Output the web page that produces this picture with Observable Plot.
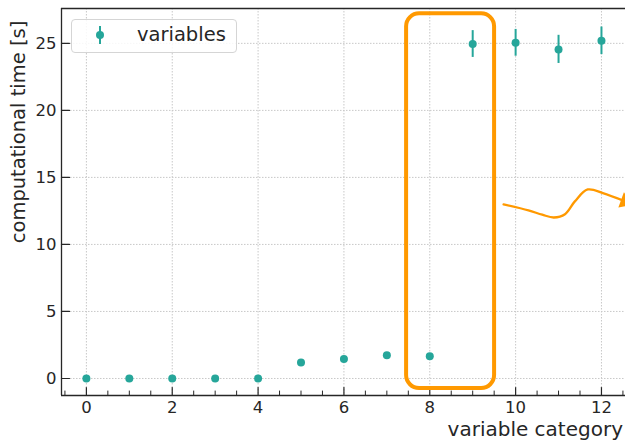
<!DOCTYPE html>
<html><head><meta charset="utf-8">
<script src="https://cdn.jsdelivr.net/npm/d3@7"></script>
<script src="https://cdn.jsdelivr.net/npm/@observablehq/plot@0.6"></script>
<style>
body{margin:0;background:#fff;font-family:"DejaVu Sans",sans-serif;}
#wrap{position:relative;width:625px;height:440px;overflow:hidden;}
#ylab{position:absolute;left:19px;top:132px;transform:translate(-50%,-50%) rotate(-90deg);white-space:nowrap;font-size:19.5px;line-height:1;color:#262626;}
#xlab{position:absolute;right:2px;top:419px;white-space:nowrap;font-size:20px;line-height:1;color:#262626;}
#legend{position:absolute;left:71px;top:19px;width:166px;height:34px;border:1px solid #d5d5d5;border-radius:4px;background:rgba(255,255,255,0.85);box-sizing:border-box;}
#legend svg{position:absolute;left:20px;top:4px;}
#legend span{position:absolute;left:65px;top:3px;font-size:19.5px;color:#262626;}
</style></head><body>
<div id="wrap"></div>
<script>
// data
const categories = [0,1,2,3,4,5,6,7,8,9,10,11,12];
const times      = [0,0,0,0,0,1.2,1.45,1.74,1.66,24.95,25.04,24.55,25.19];
const errors     = [0,0,0,0,0,0,0,0,0,1.0,1.0,1.05,1.03];
const xTickLabels = [0,2,4,6,8,10,12];
const yTickLabels = [0,5,10,15,20,25];
const seriesName = "variables";
const xLabel = "variable category";
const yLabel = "computational time [s]";
// annotation (data coordinates)
const boxX = [7.46, 9.51];
const boxY = [-0.75, 27.2];
const squiggleX = [9.72, 10.30, 10.62, 10.89, 11.15, 11.38, 11.68, 12.05, 12.56];
const squiggleY = [12.99, 12.54, 12.22, 12.01, 12.25, 13.21, 14.10, 13.81, 13.21];

const teal = "#26a69a";
const orange = "#ff9900";
const xDomain = [-0.58, 12.56];
const yDomain = [-1.27, 27.6];

const data = categories.map((c,i)=>({x:c, y:times[i], e:errors[i]}));
const errData = data.filter(d=>d.e>0);
const squiggle = squiggleX.map((x,i)=>({x, y:squiggleY[i]}));
const arrowTip = [squiggle[squiggle.length-1]];
const minorX = d3.range(-0.5, 12.6, 0.5).filter(v=>Math.abs(v%2)>1e-9);
const tickShape = {draw(ctx,l){ctx.moveTo(0,0); ctx.lineTo(0,-l);}};

const chart = Plot.plot({
  width: 625, height: 440,
  marginLeft: 61, marginRight: 0, marginTop: 8, marginBottom: 45,
  style: {fontFamily: "DejaVu Sans, sans-serif", fontSize: "16px", color: "#262626", background: "white"},
  x: {domain: xDomain, label: null},
  y: {domain: yDomain, label: null},
  marks: [
    Plot.gridX(xTickLabels, {stroke: "#c8c8c8", strokeOpacity: 1, strokeDasharray: "1.5,1.5"}),
    Plot.gridY(yTickLabels, {stroke: "#c8c8c8", strokeOpacity: 1, strokeDasharray: "1.5,1.5"}),
    Plot.axisX({ticks: xTickLabels, tickSize: 0, tickPadding: 6, fontSize: 16.5, label: null}),
    Plot.axisY({ticks: yTickLabels, tickSize: 0, tickPadding: 5, fontSize: 16.5, label: null}),
    Plot.vector(xTickLabels, {x: d=>d, frameAnchor: "bottom", length: 8, rotate: 0, anchor: "start", shape: tickShape, stroke: "#262626", strokeWidth: 1.2}),
    Plot.vector(minorX, {x: d=>d, frameAnchor: "bottom", length: 4.5, rotate: 0, anchor: "start", shape: tickShape, stroke: "#262626", strokeWidth: 1}),
    Plot.vector(yTickLabels, {y: d=>d, frameAnchor: "left", length: 8, rotate: 90, anchor: "start", shape: tickShape, stroke: "#262626", strokeWidth: 1.2}),
    Plot.ruleY([yDomain[0]], {stroke: "#262626", strokeWidth: 1.3}),
    Plot.ruleY([yDomain[1]], {stroke: "#262626", strokeWidth: 1.3}),
    Plot.ruleX([xDomain[0]], {stroke: "#262626", strokeWidth: 1.3}),
    Plot.ruleX(errData, {x: "x", y1: d=>d.y-d.e, y2: d=>d.y+d.e, stroke: teal, strokeWidth: 2}),
    Plot.dot(data, {x: "x", y: "y", r: 4, fill: teal, stroke: "none"}),
    Plot.rect([{}], {x1: boxX[0], x2: boxX[1], y1: boxY[0], y2: boxY[1], rx: 13, fill: "none", stroke: orange, strokeWidth: 4}),
    Plot.line(squiggle, {x: "x", y: "y", curve: "catmull-rom", stroke: orange, strokeWidth: 2.3}),
    Plot.dot(arrowTip, {x: "x", y: "y", symbol: "triangle", rotate: 110, r: 6, fill: orange, stroke: "none"})
  ]
});
const wrap = document.getElementById("wrap");
wrap.appendChild(chart);
const yl = document.createElement("div"); yl.id = "ylab"; yl.textContent = yLabel; wrap.appendChild(yl);
const xl = document.createElement("div"); xl.id = "xlab"; xl.textContent = xLabel; wrap.appendChild(xl);
const lg = document.createElement("div"); lg.id = "legend";
lg.innerHTML = `<svg width="16" height="24"><line x1="8" x2="8" y1="2" y2="20" stroke="${teal}" stroke-width="2"/><circle cx="8" cy="11" r="4" fill="${teal}"/></svg><span></span>`;
lg.querySelector("span").textContent = seriesName;
wrap.appendChild(lg);
</script>
</body></html>
